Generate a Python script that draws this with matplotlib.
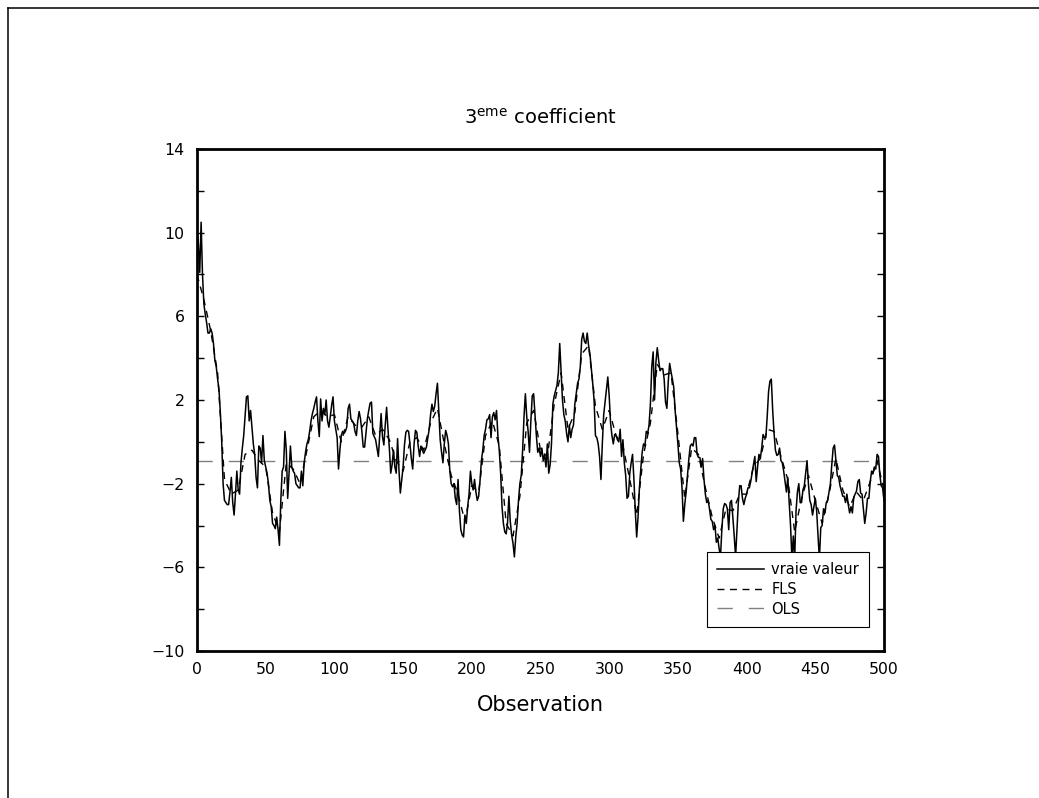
import matplotlib
matplotlib.use("Agg")
import matplotlib.pyplot as plt
import numpy as np
from matplotlib.lines import Line2D

# vraie valeur, one reading per observation (0..500)
true_val = [
    10.0, 9.5, 8.1, 10.5, 8.0, 6.6, 6.1, 5.7, 5.2, 5.2,
    5.4, 5.2, 4.7, 3.9, 3.6, 3.0, 2.5, 1.4, 0.0, -2.0,
    -2.8, -2.9, -3.0, -3.0, -2.4, -1.7, -2.9, -3.5, -2.5, -1.4,
    -2.3, -2.5, -1.0, -0.3, 0.3, 1.2, 2.15, 2.2, 1.0, 1.5,
    0.7, -0.1, -0.6, -1.7, -2.2, -0.2, -0.3, -1.0, 0.3, -0.9,
    -1.2, -1.5, -2.0, -2.8, -3.1, -3.9, -4.0, -4.15, -3.6, -4.2,
    -4.95, -2.8, -1.4, -1.2, 0.5, -0.4, -2.7, -1.5, -0.2, -1.2,
    -1.4, -1.5, -2.0, -2.1, -2.2, -2.2, -1.4, -2.1, -1.0, -0.5,
    -0.1, 0.1, 0.5, 1.0, 1.35, 1.6, 1.9, 2.15, 1.0, 0.25,
    2.05, 1.0, 1.6, 1.3, 2.0, 1.0, 0.7, 1.2, 1.75, 2.15,
    1.0, 0.6, 0.2, -1.3, -0.4, 0.3, 0.5, 0.4, 0.5, 0.7,
    1.6, 1.8, 1.1, 1.0, 0.9, 0.5, 0.3, 1.0, 1.45, 1.1,
    0.5, -0.25, -0.25, 0.4, 1.1, 1.5, 1.85, 1.9, 0.4, 0.25,
    0.1, -0.3, -0.7, 0.3, 1.35, 0.25, -0.15, 0.8, 1.65, 0.6,
    -0.3, -1.5, -1.1, -0.4, -1.2, -1.5, 0.15, -1.35, -2.45, -1.8,
    -1.2, -0.15, 0.45, 0.55, 0.5, -0.1, -0.8, -1.3, -0.1, 0.55,
    0.45, -0.2, -0.7, -0.2, -0.4, -0.55, -0.4, -0.25, 0.2, 0.6,
    1.3, 1.8, 1.45, 1.7, 2.3, 2.8, 1.5, 0.1, -0.5, -1.0,
    -0.1, 0.55, 0.3, -0.1, -1.4, -2.0, -2.15, -2.0, -2.7, -3.0,
    -1.8, -3.3, -4.2, -4.45, -4.55, -3.5, -3.9, -3.1, -2.5, -1.4,
    -2.0, -2.3, -1.8, -2.4, -2.8, -2.6, -1.85, -0.9, -0.4, 0.3,
    0.6, 1.05, 1.1, 1.3, 0.2, 1.2, 1.4, 1.05, 1.5, 0.3,
    -0.4, -1.5, -3.1, -3.9, -4.3, -4.4, -3.9, -2.6, -3.8, -4.45,
    -4.85, -5.5, -4.55, -3.9, -2.8, -2.0, -1.6, -0.4, 1.2, 2.3,
    1.2, 0.5, -0.5, 1.0, 2.2, 2.3, 1.3, 0.3, -0.5, -0.3,
    -0.7, -0.3, -0.9, -0.6, -1.2, -0.1, -1.5, -1.1, -0.1, 1.8,
    2.2, 2.45, 2.7, 3.3, 4.7, 3.4, 2.0, 1.3, 1.0, 0.4,
    0.0, 0.8, 0.2, 0.6, 0.8, 1.8, 2.3, 2.8, 3.0, 3.6,
    4.9, 5.2, 4.8, 4.7, 5.2, 4.6, 4.2, 3.5, 2.8, 2.0,
    0.3, 0.2, -0.1, -0.7, -1.8, -0.1, 1.3, 1.9, 2.5, 3.1,
    2.2, 0.9, 0.3, -0.1, 0.35, 0.3, 0.1, 0.0, 0.6, -0.7,
    0.1, -1.0, -1.6, -2.7, -2.6, -1.5, -1.0, -0.6, -1.8, -3.3,
    -4.55, -3.6, -2.2, -1.3, -0.5, -0.1, -0.2, 0.5, 0.4, 0.8,
    1.8, 3.6, 4.3, 2.0, 3.8, 4.5, 3.9, 3.4, 3.5, 3.5,
    3.0, 1.9, 1.6, 2.9, 3.75, 3.35, 3.0, 2.6, 1.5, 0.7,
    -0.1, -1.0, -1.3, -2.2, -3.8, -3.0, -2.4, -1.6, -0.8, -0.2,
    -0.1, -0.2, 0.2, 0.2, -0.6, -0.75, -0.75, -1.2, -0.8, -1.8,
    -2.5, -2.9, -2.8, -3.2, -3.7, -3.8, -4.2, -4.0, -4.8, -4.6,
    -5.1, -5.5, -4.2, -3.2, -2.95, -3.0, -3.2, -4.2, -2.9, -2.8,
    -3.6, -4.5, -5.5, -4.2, -2.9, -2.1, -2.1, -2.7, -3.0, -2.7,
    -2.5, -2.2, -2.2, -1.9, -1.5, -1.1, -0.7, -1.9, -1.2, -0.6,
    -0.8, -0.3, 0.35, 0.2, 0.2, 1.2, 2.4, 2.9, 3.0, 1.5,
    0.4, -0.4, -0.65, -0.6, -0.3, -0.9, -1.0, -1.4, -1.9, -2.4,
    -1.7, -2.9, -4.0, -5.6, -4.5, -5.6, -3.3, -2.4, -2.0, -2.9,
    -2.9, -2.3, -2.1, -1.5, -0.9, -2.0, -2.8, -3.0, -3.5, -3.1,
    -2.7, -3.3, -4.5, -5.6, -4.1, -4.0, -3.2, -3.4, -2.9, -2.8,
    -2.4, -2.0, -1.1, -0.3, -0.15, -0.9, -1.6, -1.7, -2.1, -2.35,
    -2.6, -2.6, -2.9, -2.5, -3.0, -3.4, -3.1, -3.4, -2.65, -2.5,
    -2.35, -1.9, -1.8, -2.45, -2.5, -3.2, -3.9, -3.4, -2.7, -2.7,
    -1.9, -1.4, -1.5, -1.2, -1.3, -0.6, -0.7, -1.6, -2.1, -2.2,
    -2.8,
]

# FLS estimate, read every 5 observations
fls_step = 5
fls_val = [
    8.0, 6.8, 5.3, 3.3, -1.8, -2.5, -2.3, -0.6, -0.4, -0.9,
    -1.2, -3.4, -4.3, -1.0, -1.3, -2.0, -0.4, 1.2, 1.5, 1.2,
    1.3, 0.0, 1.2, 0.8, 0.7, 1.2, 0.3, 0.6, 0.1, -0.9,
    -1.4, 0.0, 0.2, -0.4, 0.9, 1.6, -0.1, -1.6, -2.5, -3.8,
    -2.1, -2.4, 0.3, 1.0, -0.2, -3.9, -4.5, -2.6, 0.9, 1.5,
    -0.4, -0.7, 1.8, 3.3, 0.6, 1.4, 4.2, 4.6, 1.7, 0.6,
    1.5, 0.3, -0.2, -1.8, -3.5, -0.6, 0.9, 3.7, 3.2, 3.3,
    0.4, -2.7, -0.3, -0.6, -2.2, -3.6, -4.6, -3.2, -3.3, -2.5,
    -2.5, -1.2, -0.8, 0.6, 0.5, -0.7, -1.8, -4.3, -2.7, -1.6,
    -2.8, -3.9, -2.5, -0.8, -2.3, -3.1, -2.4, -2.8, -1.9, -0.9,
    -2.3,
]

# OLS estimate (constant)
ols_level = -0.9

x_ticks = [0, 50, 100, 150, 200, 250, 300, 350, 400, 450, 500]
y_major = [-10, -6, -2, 2, 6, 10, 14]
y_minor = [-8, -4, 0, 4, 8, 12]

obs = np.arange(len(true_val))
fls_obs = np.arange(len(fls_val)) * fls_step

plt.rcParams["font.family"] = ["DejaVu Sans"]

fig = plt.figure(figsize=(10.39, 7.98), dpi=100)
ax = fig.add_axes([0.1896, 0.1842, 0.6612, 0.6291])

ols_line = ax.axhline(ols_level, color="#808080", lw=1.0, dashes=(11, 11.5), zorder=1)
fls_line, = ax.plot(fls_obs, fls_val, color="black", lw=1.0, dashes=(5, 4), zorder=2)
true_line, = ax.plot(obs, true_val, color="black", lw=1.1, zorder=3)

ax.set_xlim(0, 500)
ax.set_ylim(-10, 14)
ax.set_xticks(x_ticks)
ax.set_yticks(y_major)
ax.set_yticks(y_minor, minor=True)
ax.tick_params(axis="x", length=0, pad=8, labelsize=11.3)
ax.tick_params(axis="y", which="both", direction="in", left=True, right=True,
               length=5, width=1, pad=9, labelsize=11.3)
for sp in ax.spines.values():
    sp.set_linewidth(2.0)

fig.text(540.5 / 1039, 1 - 118 / 798, r"3$^{\rm eme}$ coefficient",
         ha="center", va="center", fontsize=14)
fig.text(540.5 / 1039, 1 - 705 / 798, "Observation",
         ha="center", va="center", fontsize=15)

leg = ax.legend([true_line, fls_line, ols_line], ["vraie valeur", "FLS", "OLS"],
                loc="upper left", bbox_to_anchor=(0.7424, 0.1972), borderaxespad=0,
                fontsize=10.5, handlelength=3.2, handletextpad=0.5, borderpad=0.7,
                labelspacing=0.32, fancybox=False, framealpha=1, edgecolor="black")
leg.get_frame().set_linewidth(0.8)

# outer frame of the page (top and left edges visible)
fig.add_artist(Line2D([8 / 1039, 8 / 1039], [0, 1 - 8 / 798], color="black", lw=1.1))
fig.add_artist(Line2D([8 / 1039, 1], [1 - 8 / 798, 1 - 8 / 798], color="black", lw=1.1))

fig.savefig("out.png", dpi=100)
